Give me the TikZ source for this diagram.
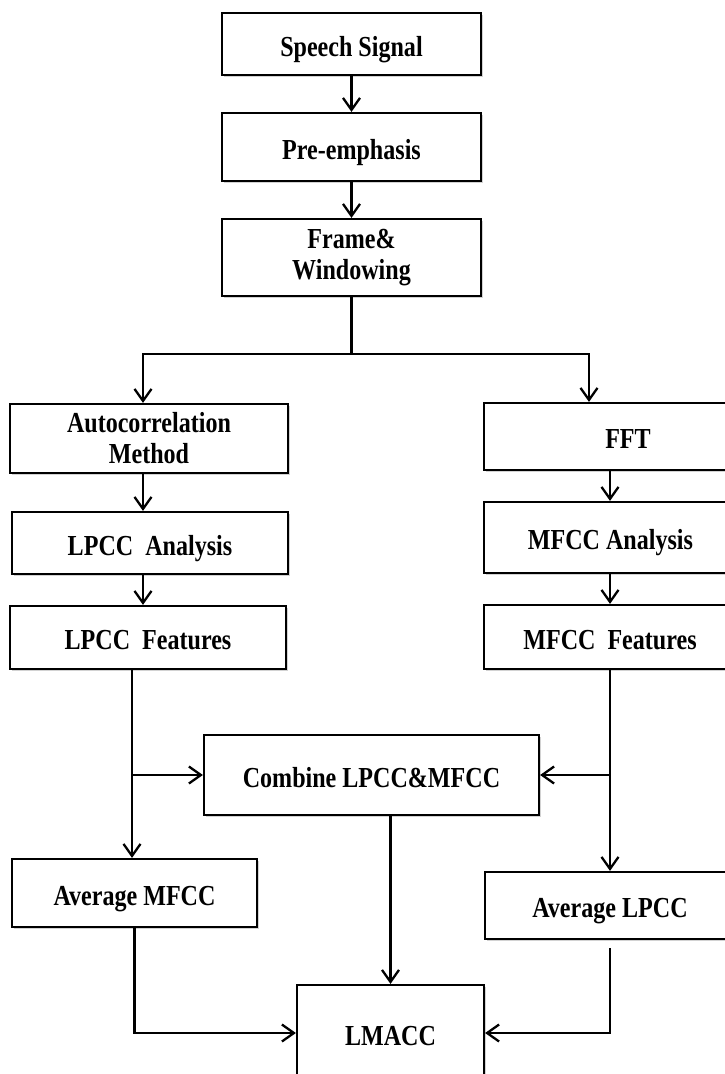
\documentclass[tikz,border=0pt]{standalone}
\usepackage{fontspec}
\setmainfont{Liberation Serif}[FakeStretch=0.83]
\usetikzlibrary{arrows.meta,shadows}
\tikzset{
  box/.style={draw, line width=2.2pt, fill=white, align=center, inner sep=0pt,
    font=\fontsize{29}{31}\selectfont\bfseries,
    drop shadow={shadow xshift=1.5pt, shadow yshift=-1.5pt, opacity=0.35}},
  oneline/.style={text height=24pt, text depth=0pt},
  ln/.style={line width=2.3pt},
  arr/.style={line width=2.3pt, -{Straight Barb[length=12pt,width=17pt,line width=2.3pt]}}
}
\begin{document}
\begin{tikzpicture}[x=1pt,y=-1pt]
\clip (0,0) rectangle (725,1074);
\fill[white] (0,0) rectangle (725,1074);
% nodes
\node[box, oneline, minimum width=259pt, minimum height=62pt] (sig) at (351.5,44) {Speech Signal};
\node[box, oneline, minimum width=259pt, minimum height=68pt] (pre) at (351.5,147) {Pre-emphasis};
\node[box, minimum width=259pt, minimum height=77pt, yshift=-2pt] (frame) at (351.5,255.5) {Frame\&\\Windowing};
\node[box, minimum width=278pt, minimum height=69pt, yshift=-2pt] (auto) at (149,436.5) {Autocorrelation\\Method};
\node[box, oneline, minimum width=276pt, minimum height=62pt] (lpa) at (150,543) {LPCC\ \ Analysis};
\node[box, oneline, minimum width=276pt, minimum height=63pt] (lpf) at (148,637.5) {LPCC\ \ Features};
\node[box, oneline, minimum width=288pt, minimum height=67pt] (fft) at (628,436.5) {FFT};
\node[box, oneline, minimum width=253pt, minimum height=71pt] (mfa) at (610.5,537.5) {MFCC Analysis};
\node[box, oneline, minimum width=252pt, minimum height=64pt] (mff) at (610,637) {MFCC\ \ Features};
\node[box, oneline, minimum width=335pt, minimum height=80pt] (comb) at (371.5,775) {Combine LPCC\&MFCC};
\node[box, oneline, minimum width=245pt, minimum height=68pt] (avm) at (134.5,893) {Average MFCC};
\node[box, oneline, minimum width=250pt, minimum height=67pt] (avl) at (610,905.5) {Average LPCC};
\node[box, oneline, minimum width=187pt, minimum height=96pt] (lmacc) at (390.5,1033) {LMACC};
% helper coordinates
\coordinate (sl) at (143,354);
\coordinate (sr) at (589,354);
\coordinate (rx) at (610,0);
\coordinate (lx) at (132,0);
% connectors
\draw[arr] (sig) -- (pre);
\draw[arr] (pre) -- (frame);
\draw[ln] (frame.south) -- (frame.south |- sl);
\draw[arr] (frame.south |- sl) -- (sl) -- (sl |- auto.north);
\draw[arr] (frame.south |- sr) -- (sr) -- (sr |- fft.north);
\draw[arr] (sl |- auto.south) -- (sl |- lpa.north);
\draw[arr] (sl |- lpa.south) -- (sl |- lpf.north);
\draw[arr] (rx |- fft.south) -- (rx |- mfa.north);
\draw[arr] (rx |- mfa.south) -- (rx |- mff.north);
\draw[arr] (lx |- lpf.south) -- (lx |- avm.north);
\draw[arr] (lx |- comb.west) -- (comb.west);
\draw[arr] (rx |- mff.south) -- (rx |- avl.north);
\draw[arr] (rx |- comb.east) -- (comb.east);
\draw[arr] (lmacc.north |- comb.south) -- (lmacc.north);
\draw[arr] (avm.south) |- (lmacc.west);
\draw[arr] ([yshift=-8pt]avl.south) |- (lmacc.east);
\end{tikzpicture}
\end{document}
